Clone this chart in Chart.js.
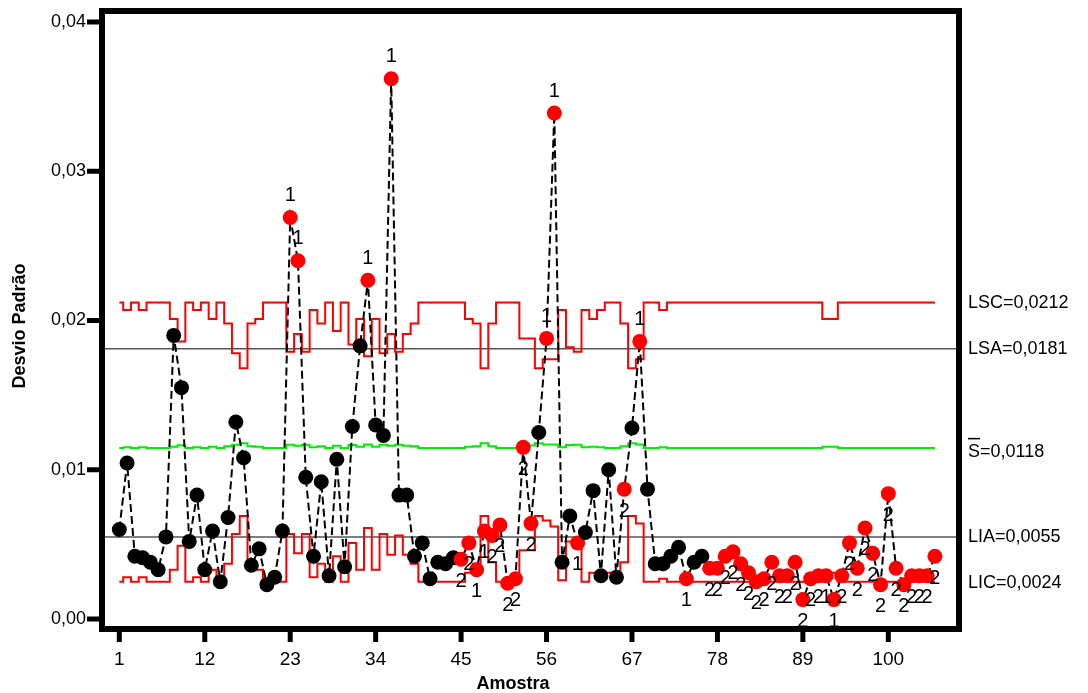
<!DOCTYPE html>
<html>
<head>
<meta charset="utf-8">
<script src="https://cdn.jsdelivr.net/npm/chart.js@4.4.1/dist/chart.umd.min.js"></script>
<style>
  html, body { margin: 0; padding: 0; background: #fff; }
  #wrap { width: 1088px; height: 693px; }
</style>
</head>
<body>
<div id="wrap"><canvas id="chart" width="1088" height="693"></canvas></div>
<script>
// amostras 1..106
const amostras = Array.from({ length: 106 }, (_, i) => i + 1);

// desvio padrao de cada amostra
const desvio = [
  0.0060, 0.01045, 0.0042, 0.0041, 0.0038, 0.0033, 0.0055, 0.0190, 0.0155, 0.0052,
  0.0083, 0.0033, 0.0059, 0.0025, 0.0068, 0.0132, 0.0108, 0.0036, 0.0047, 0.0023,
  0.0028, 0.0059, 0.0269, 0.0240, 0.0095, 0.0042, 0.0092, 0.0029, 0.0107, 0.0035,
  0.0129, 0.0183, 0.0227, 0.0130, 0.0123, 0.0362, 0.0083, 0.0083, 0.0042, 0.0051,
  0.0027, 0.0038, 0.0037, 0.0041, 0.0040, 0.0051, 0.0033, 0.0059, 0.0056, 0.0063,
  0.0024, 0.0027, 0.0115, 0.0064, 0.0125, 0.0188, 0.0339, 0.0038, 0.0069, 0.0051,
  0.0058, 0.0086, 0.0029, 0.0100, 0.0028, 0.0087, 0.0128, 0.0186, 0.0087, 0.0037,
  0.0037, 0.0042, 0.0048, 0.0027, 0.0038, 0.0042, 0.0034, 0.0034, 0.0042, 0.0045,
  0.0037, 0.0031, 0.0025, 0.0027, 0.0038, 0.0029, 0.0029, 0.0038, 0.0013, 0.0027,
  0.0029, 0.0029, 0.0013, 0.0029, 0.0051, 0.0034, 0.0061, 0.0044, 0.0023, 0.0084,
  0.0034, 0.0023, 0.0029, 0.0029, 0.0029, 0.0042
];

// limite superior de controle (varia com o tamanho da amostra)
const lsc = [
  0.0212, 0.0207, 0.0212, 0.0207, 0.0212, 0.0212, 0.0212, 0.0201, 0.0186, 0.0212,
  0.0207, 0.0212, 0.0201, 0.0212, 0.0198, 0.0178, 0.0168, 0.0198, 0.0201, 0.0212,
  0.0212, 0.0212, 0.0179, 0.0191, 0.0179, 0.0207, 0.0198, 0.0212, 0.0193, 0.0212,
  0.0184, 0.0201, 0.0176, 0.0201, 0.0178, 0.0191, 0.0179, 0.0191, 0.0198, 0.0212,
  0.0212, 0.0212, 0.0212, 0.0212, 0.0212, 0.0201, 0.0198, 0.0168, 0.0198, 0.0212,
  0.0212, 0.0212, 0.0188, 0.0188, 0.0168, 0.0174, 0.0174, 0.0207, 0.0182, 0.0179,
  0.0207, 0.0201, 0.0207, 0.0212, 0.0212, 0.0198, 0.0168, 0.0174, 0.0212, 0.0212,
  0.0207, 0.0212, 0.0212, 0.0212, 0.0212, 0.0212, 0.0212, 0.0212, 0.0212, 0.0212,
  0.0212, 0.0212, 0.0212, 0.0212, 0.0212, 0.0212, 0.0212, 0.0212, 0.0212, 0.0212,
  0.0212, 0.0201, 0.0201, 0.0212, 0.0212, 0.0212, 0.0212, 0.0212, 0.0212, 0.0212,
  0.0212, 0.0212, 0.0212, 0.0212, 0.0212, 0.0212
];

// linha central
const lc = [
  0.01146, 0.0115, 0.01146, 0.0115, 0.01146, 0.01146, 0.01146, 0.01154, 0.01164, 0.01146,
  0.0115, 0.01146, 0.01154, 0.01146, 0.01157, 0.01168, 0.01178, 0.01157, 0.01154, 0.01146,
  0.01146, 0.01146, 0.01167, 0.01161, 0.01167, 0.0115, 0.01157, 0.01146, 0.0116, 0.01146,
  0.01165, 0.01154, 0.01169, 0.01154, 0.01168, 0.01161, 0.01167, 0.01161, 0.01157, 0.01146,
  0.01146, 0.01146, 0.01146, 0.01146, 0.01146, 0.01154, 0.01157, 0.01178, 0.01157, 0.01146,
  0.01146, 0.01146, 0.01163, 0.01163, 0.01178, 0.0117, 0.0117, 0.0115, 0.01166, 0.01167,
  0.0115, 0.01154, 0.0115, 0.01146, 0.01146, 0.01157, 0.01178, 0.0117, 0.01146, 0.01146,
  0.0115, 0.01146, 0.01146, 0.01146, 0.01146, 0.01146, 0.01146, 0.01146, 0.01146, 0.01146,
  0.01146, 0.01146, 0.01146, 0.01146, 0.01146, 0.01146, 0.01146, 0.01146, 0.01146, 0.01146,
  0.01146, 0.01154, 0.01154, 0.01146, 0.01146, 0.01146, 0.01146, 0.01146, 0.01146, 0.01146,
  0.01146, 0.01146, 0.01146, 0.01146, 0.01146, 0.01146
];

// limite inferior de controle
const lic = [
  0.0025, 0.0028, 0.0025, 0.0028, 0.0025, 0.0025, 0.0025, 0.0033, 0.0049, 0.0025,
  0.0028, 0.0025, 0.0033, 0.0025, 0.0037, 0.0057, 0.0069, 0.0037, 0.0033, 0.0025,
  0.0025, 0.0025, 0.0057, 0.0044, 0.0057, 0.0028, 0.0037, 0.0025, 0.0042, 0.0025,
  0.0051, 0.0033, 0.0061, 0.0033, 0.0057, 0.0043, 0.0056, 0.0043, 0.0037, 0.0025,
  0.0025, 0.0025, 0.0025, 0.0025, 0.0025, 0.0031, 0.0037, 0.0069, 0.0038, 0.0025,
  0.0025, 0.0025, 0.0046, 0.0046, 0.0069, 0.0066, 0.0062, 0.0026, 0.0052, 0.0052,
  0.0025, 0.0031, 0.0027, 0.0031, 0.0031, 0.0038, 0.0069, 0.0064, 0.0025, 0.0025,
  0.0027, 0.0025, 0.0025, 0.0025, 0.0025, 0.0025, 0.0025, 0.0025, 0.0025, 0.0025,
  0.0025, 0.0025, 0.0025, 0.0025, 0.0025, 0.0025, 0.0025, 0.0025, 0.0025, 0.0025,
  0.0025, 0.0031, 0.0031, 0.0025, 0.0025, 0.0025, 0.0025, 0.0025, 0.0025, 0.0025,
  0.0025, 0.0025, 0.0025, 0.0025, 0.0025, 0.0025
];

// limites de alerta
const lsa = 0.0181;
const lia = 0.0055;

// amostras que falharam nos testes 1 e 2
const teste1 = [23, 24, 33, 36, 47, 48, 56, 57, 60, 68, 74, 92, 93];
const teste2 = [45, 46, 49, 50, 51, 52, 53, 54, 66, 77, 78, 79, 80, 81, 82, 83, 84, 85,
  86, 87, 88, 89, 90, 91, 94, 95, 96, 97, 98, 99, 100, 101, 102, 103, 104, 105, 106];

const xTicks = [1, 12, 23, 34, 45, 56, 67, 78, 89, 100];
const yTicks = [0, 0.01, 0.02, 0.03, 0.04];
const yTickLabels = ["0,00", "0,01", "0,02", "0,03", "0,04"];
const rotulos = [
  { txt: "LSC=0,0212", v: 0.0212 },
  { txt: "LSA=0,0181", v: 0.0181 },
  { txt: "S=0,0118", v: 0.0118, barra: true },
  { txt: "LIA=0,0055", v: 0.0055 },
  { txt: "LIC=0,0024", v: 0.0024 }
];

const xMin = -1.23, xMax = 109.1;
const cores = amostras.map(a => (teste1.includes(a) || teste2.includes(a)) ? "#ff0000" : "#000000");
const pts = arr => amostras.map((a, i) => ({ x: a, y: arr[i] }));

const moldura = {
  id: "moldura",
  afterDatasetsDraw(chart) {
    const { ctx, chartArea: a, scales: { x, y } } = chart;
    const meta = chart.getDatasetMeta(0);
    ctx.save();

    // rotulos dos testes
    ctx.fillStyle = "#000";
    ctx.font = "20px 'Liberation Sans Narrow', Arial, sans-serif";
    ctx.textAlign = "center";
    ctx.textBaseline = "middle";
    amostras.forEach((am, i) => {
      let t = teste1.includes(am) ? "1" : (teste2.includes(am) ? "2" : "");
      if (!t) return;
      const p = meta.data[i];
      const dy = desvio[i] > lc[i] ? -22 : 22;
      ctx.fillText(t, p.x, p.y + dy);
    });

    // moldura
    ctx.strokeStyle = "#000";
    ctx.lineWidth = 6;
    ctx.strokeRect(a.left, a.top, a.right - a.left, a.bottom - a.top);

    // eixo y
    ctx.fillStyle = "#000";
    ctx.font = "18px Arial, 'Liberation Sans', sans-serif";
    ctx.textAlign = "right";
    yTicks.forEach((v, k) => {
      const py = y.getPixelForValue(v);
      ctx.fillRect(a.left - 15, py - 2.5, 13, 5);
      ctx.fillText(yTickLabels[k], 86, py);
    });

    // eixo x
    ctx.textAlign = "center";
    ctx.textBaseline = "middle";
    ctx.font = "19px 'Liberation Sans Narrow', Arial, sans-serif";
    xTicks.forEach(v => {
      const px = x.getPixelForValue(v);
      ctx.fillRect(px - 2.5, a.bottom + 2, 5, 11);
      ctx.fillText(String(v), px, 660);
    });

    // titulos
    ctx.font = "bold 18px 'Liberation Sans Narrow', Arial, sans-serif";
    ctx.fillText("Amostra", 513, 684);
    ctx.save();
    ctx.translate(20, 326);
    ctx.rotate(-Math.PI / 2);
    ctx.font = "bold 18px Arial, sans-serif";
    ctx.fillText("Desvio Padrão", 0, 0);
    ctx.restore();

    // rotulos da direita
    ctx.textAlign = "left";
    ctx.font = "18px Arial, sans-serif";
    rotulos.forEach(r => {
      let py = y.getPixelForValue(r.v);
      if (r.barra) {
        py += 9;
        const w = ctx.measureText("S").width;
        ctx.fillRect(968, py - 14, w, 1.5);
      }
      ctx.fillText(r.txt, 968, py);
    });
    ctx.restore();
  }
};

new Chart(document.getElementById("chart"), {
  type: "line",
  data: {
    datasets: [
      {
        label: "Desvio",
        data: pts(desvio),
        borderColor: "#000",
        borderWidth: 2,
        borderDash: [8, 4],
        pointRadius: 7.5,
        pointHoverRadius: 7.5,
        pointBorderWidth: 0,
        pointBackgroundColor: cores,
        order: 0
      },
      { label: "LSC", data: pts(lsc), stepped: "middle", borderColor: "#ff0000", borderWidth: 2, pointRadius: 0, order: 1 },
      { label: "LIC", data: pts(lic), stepped: "middle", borderColor: "#ff0000", borderWidth: 2, pointRadius: 0, order: 1 },
      { label: "LC", data: pts(lc), stepped: "middle", borderColor: "#00ee00", borderWidth: 2, pointRadius: 0, order: 1 },
      { label: "LSA", data: [{ x: xMin, y: lsa }, { x: xMax, y: lsa }], borderColor: "#555", borderWidth: 1.5, pointRadius: 0, order: 2 },
      { label: "LIA", data: [{ x: xMin, y: lia }, { x: xMax, y: lia }], borderColor: "#555", borderWidth: 1.5, pointRadius: 0, order: 2 }
    ]
  },
  options: {
    responsive: false,
    animation: false,
    devicePixelRatio: 1,
    layout: { padding: { left: 102, right: 129, top: 11, bottom: 64 } },
    plugins: { legend: { display: false }, tooltip: { enabled: false } },
    scales: {
      x: { type: "linear", display: false, min: xMin, max: xMax },
      y: { display: false, min: -0.00067, max: 0.040737 }
    }
  },
  plugins: [moldura]
});
</script>
</body>
</html>
